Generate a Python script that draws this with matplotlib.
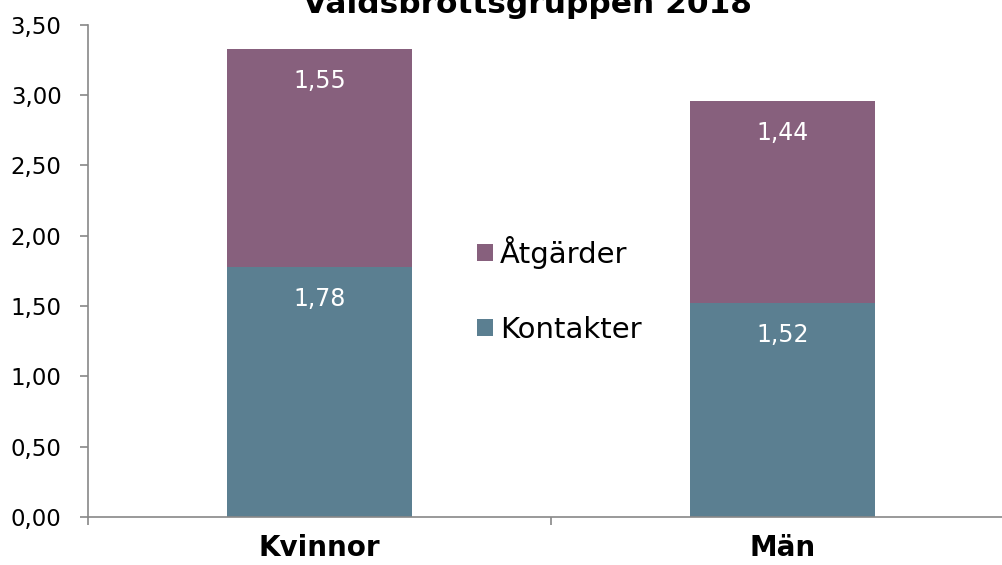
import matplotlib
matplotlib.use("Agg")
import matplotlib.pyplot as plt
from matplotlib.ticker import FuncFormatter
import numpy as np

#---
kategorier = ["Kvinnor", "Män"]
kontakter  = [1.78, 1.52]
atgarder   = [1.55, 1.44]
serier     = ["Kontakter", "Åtgärder"]
#---
blå  = "#5b7f91"
lila = "#87607d"

plt.rcParams["font.family"] = ["DejaVu Sans"]

fig = plt.figure(figsize=(10.03, 5.65), dpi=100)
# plot area runs a little past the right edge, like the original
ax = fig.add_axes([0.0877, 0.085, 0.9232, 0.871])

x = np.arange(len(kategorier))
b1 = ax.bar(x, kontakter, width=0.4, color=blå, label=serier[0])
b2 = ax.bar(x, atgarder, width=0.4, bottom=kontakter, color=lila, label=serier[1])

for bars, vals, bott in [(b1, kontakter, [0, 0]), (b2, atgarder, kontakter)]:
    for r, v, b in zip(bars, vals, bott):
        ax.annotate(f"{v:.2f}".replace(".", ","), (r.get_x() + r.get_width() / 2, b + v),
                    xytext=(0, -23), textcoords="offset points", ha="center", va="center",
                    color="white", fontsize=17)

ax.set_xlim(-0.5, 1.5)
ax.set_ylim(0, 3.5)
ax.set_yticks(np.arange(0, 3.51, 0.5))
ax.yaxis.set_major_formatter(FuncFormatter(lambda v, p: f"{v:.2f}".replace(".", ",")))
ax.tick_params(axis="y", labelsize=16.5, length=6, color="#888888", width=1.2, pad=13)

ax.set_xticks(x)
ax.set_xticklabels(kategorier, fontsize=20, fontweight="bold")
ax.tick_params(axis="x", length=0, pad=12)
ax.set_xticks([-0.5, 0.5, 1.5], minor=True)
ax.tick_params(axis="x", which="minor", length=6, color="#888888", width=1.2)

for s in ["top", "right"]:
    ax.spines[s].set_visible(False)
for s in ["left", "bottom"]:
    ax.spines[s].set_color("#888888")
    ax.spines[s].set_linewidth(1.2)

handles, labels = ax.get_legend_handles_labels()
fig.legend(handles[::-1], labels[::-1], loc="center left", bbox_to_anchor=(0.449, 0.487),
           frameon=False, fontsize=21, handlelength=0.55, handleheight=0.55,
           handletextpad=0.25, labelspacing=1.6)

fig.text(0.526, 0.977, "Våldsbrottsgruppen 2018", ha="center", va="baseline",
         fontsize=22.5, fontweight="bold")

fig.savefig("out.png", dpi=100)
